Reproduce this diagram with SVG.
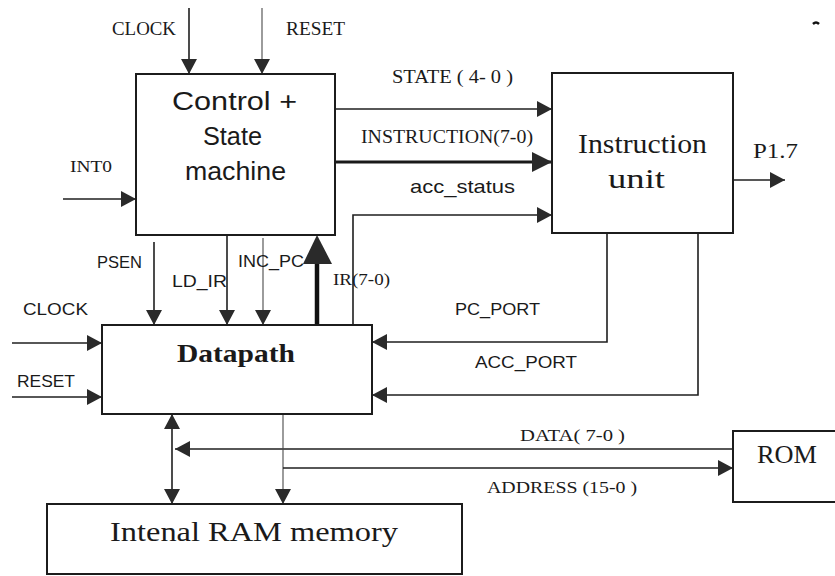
<svg xmlns="http://www.w3.org/2000/svg" width="835" height="576" viewBox="0 0 835 576">
  <style>
    .box{fill:#fff;stroke:#1c1c1c;stroke-width:2}
    .w{fill:none;stroke:#1f1f1f;stroke-width:1.6}
    .thin{fill:none;stroke:#4a4a4a;stroke-width:1.1}
    .bus{fill:none;stroke:#1a1a1a;stroke-width:3}
    .serif{font-family:"Liberation Serif","Times New Roman",serif;fill:#1a1a1a}
    .sans{font-family:"Liberation Sans",Arial,sans-serif;fill:#1a1a1a}
  </style>
  <defs>
    <marker id="ah" viewBox="0 0 15 16" refX="15" refY="8" markerWidth="15" markerHeight="16" markerUnits="userSpaceOnUse" orient="auto-start-reverse">
      <path d="M0,0L15,8L0,16z" fill="#2a2a2a"/>
    </marker>
    <marker id="ahL" viewBox="0 0 20 20" refX="20" refY="10" markerWidth="20" markerHeight="20" markerUnits="userSpaceOnUse" orient="auto">
      <path d="M0,0L20,10L0,20z" fill="#2a2a2a"/>
    </marker>
  </defs>

  <!-- connectors -->
  <g id="connectors">
    <path class="w" d="M189,8V74" marker-end="url(#ah)"/>
    <path class="thin" d="M262,8V74" marker-end="url(#ah)"/>
    <path class="w" d="M63,199H136" marker-end="url(#ah)"/>
    <path class="w" d="M335,109H552" marker-end="url(#ah)"/>
    <path class="bus" d="M335,162H552" marker-end="url(#ahL)"/>
    <path class="w" d="M353,325V215H552" marker-end="url(#ah)"/>
    <path class="w" d="M733,180H785" marker-end="url(#ah)"/>
    <path class="w" d="M154,242V325" marker-end="url(#ah)"/>
    <path class="w" d="M227,235V325" marker-end="url(#ah)"/>
    <path class="thin" d="M263,238V325" marker-end="url(#ah)"/>
    <!-- IR(7-0) bus back to the controller -->
    <path d="M317,325V262" fill="none" stroke="#111" stroke-width="4.5"/>
    <path d="M303,264L317,235L332,264z" fill="#2a2a2a"/>
    <path class="w" d="M12,343H102" marker-end="url(#ah)"/>
    <path class="w" d="M12,397H102" marker-end="url(#ah)"/>
    <path class="w" d="M607,233V342H372" marker-end="url(#ah)"/>
    <path class="w" d="M698,233V395H372" marker-end="url(#ah)"/>
    <path class="w" d="M172,414V504" marker-start="url(#ah)" marker-end="url(#ah)"/>
    <path class="w" d="M733,449H175" marker-end="url(#ah)"/>
    <path class="thin" d="M283,414V504" marker-end="url(#ah)"/>
    <path class="w" d="M283,468H733" marker-end="url(#ah)"/>
  </g>

  <!-- signal labels -->
  <g id="labels">
    <text class="serif" x="112" y="35" font-size="18" textLength="64" lengthAdjust="spacingAndGlyphs">CLOCK</text>
    <text class="serif" x="286" y="35" font-size="18" textLength="59" lengthAdjust="spacingAndGlyphs">RESET</text>
    <text class="serif" x="70" y="172" font-size="17" textLength="42" lengthAdjust="spacingAndGlyphs">INT0</text>
    <text class="serif" x="392" y="83" font-size="18" textLength="121" lengthAdjust="spacingAndGlyphs">STATE ( 4- 0 )</text>
    <text class="serif" x="361" y="143" font-size="18" textLength="172" lengthAdjust="spacingAndGlyphs">INSTRUCTION(7-0)</text>
    <text class="sans" x="410" y="193" font-size="19" textLength="105" lengthAdjust="spacingAndGlyphs">acc_status</text>
    <text class="serif" x="753" y="158" font-size="21" textLength="45" lengthAdjust="spacingAndGlyphs">P1.7</text>
    <text class="sans" x="97" y="268" font-size="17" textLength="45" lengthAdjust="spacingAndGlyphs">PSEN</text>
    <text class="sans" x="172" y="287" font-size="17" textLength="55" lengthAdjust="spacingAndGlyphs">LD_IR</text>
    <text class="sans" x="238" y="267" font-size="17" textLength="66" lengthAdjust="spacingAndGlyphs">INC_PC</text>
    <text class="serif" x="333" y="285" font-size="17" textLength="57" lengthAdjust="spacingAndGlyphs">IR(7-0)</text>
    <text class="sans" x="23" y="315" font-size="17" textLength="65" lengthAdjust="spacingAndGlyphs">CLOCK</text>
    <text class="sans" x="17" y="387" font-size="17" textLength="58" lengthAdjust="spacingAndGlyphs">RESET</text>
    <text class="sans" x="455" y="315" font-size="17" textLength="85" lengthAdjust="spacingAndGlyphs">PC_PORT</text>
    <text class="sans" x="475" y="368" font-size="17" textLength="102" lengthAdjust="spacingAndGlyphs">ACC_PORT</text>
    <text class="serif" x="520" y="441" font-size="17" textLength="105" lengthAdjust="spacingAndGlyphs">DATA( 7-0 )</text>
    <text class="serif" x="487" y="493" font-size="17" textLength="150" lengthAdjust="spacingAndGlyphs">ADDRESS (15-0 )</text>
  </g>

  <g id="control">
    <rect class="box" x="136" y="74" width="199" height="161"/>
    <text class="sans" x="172" y="110" font-size="25" textLength="125" lengthAdjust="spacingAndGlyphs">Control  +</text>
    <text class="sans" x="203" y="145" font-size="25" textLength="59" lengthAdjust="spacingAndGlyphs">State</text>
    <text class="sans" x="185" y="180" font-size="25" textLength="101" lengthAdjust="spacingAndGlyphs">machine</text>
  </g>

  <g id="instruction-unit">
    <rect class="box" x="552" y="73" width="181" height="160"/>
    <text class="serif" x="578" y="153" font-size="27" textLength="129" lengthAdjust="spacingAndGlyphs">Instruction</text>
    <text class="serif" x="608" y="188" font-size="27" textLength="57" lengthAdjust="spacingAndGlyphs">unit</text>
  </g>

  <g id="datapath">
    <rect class="box" x="102" y="325" width="270" height="89"/>
    <text class="serif" x="177" y="362" font-size="25" font-weight="bold" textLength="118" lengthAdjust="spacingAndGlyphs">Datapath</text>
  </g>

  <g id="ram">
    <rect class="box" x="47" y="504" width="415" height="70"/>
    <text class="serif" x="110" y="541" font-size="27" textLength="288" lengthAdjust="spacingAndGlyphs">Intenal  RAM memory</text>
  </g>

  <g id="rom">
    <rect class="box" x="733" y="431" width="110" height="71"/>
    <text class="serif" x="757" y="463" font-size="25" textLength="60" lengthAdjust="spacingAndGlyphs">ROM</text>
  </g>

  <!-- small ink mark near the top right corner -->
  <path d="M813,24q3,-3 6,0" fill="none" stroke="#111" stroke-width="2.5"/>
</svg>
